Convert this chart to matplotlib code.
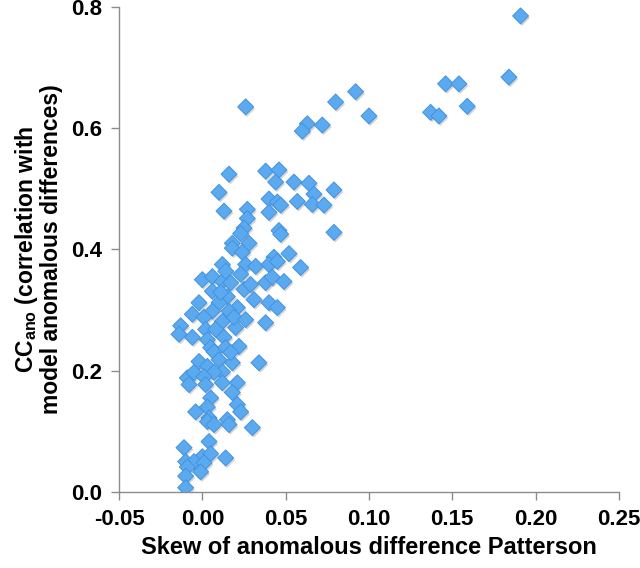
"""Scatter: CC_ano vs skew of anomalous difference Patterson."""
import matplotlib
matplotlib.use("Agg")
import matplotlib.pyplot as plt
import matplotlib.patheffects as pe
from matplotlib.ticker import FormatStrFormatter

plt.rcParams["font.family"] = ["Liberation Sans", "DejaVu Sans"]
plt.rcParams["font.weight"] = "bold"
plt.rcParams["mathtext.fontset"] = "custom"
plt.rcParams["mathtext.rm"] = "Liberation Sans:bold"

# skew of anomalous difference Patterson (x) and CC_ano (y)
skew = [
    0.191, 0.184, 0.146, 0.154, 0.159, 0.137, 0.142, 0.092, 0.080, 0.100,
    0.063, 0.072, 0.060, 0.026, 0.016, 0.038, 0.046, 0.010, 0.013, 0.044,
    0.055, 0.064, 0.079, 0.067, 0.040, 0.045, 0.047, 0.057, 0.066, 0.073,
    0.040, 0.027, 0.027, 0.025, 0.023, 0.046, 0.047, 0.079, 0.018, 0.028,
    0.018, 0.024, 0.052, 0.043, 0.012, 0.026, 0.032, 0.040, 0.045, 0.059,
    0.000, 0.006, 0.012, 0.017, 0.038, 0.042, 0.049, 0.006, 0.025, 0.031,
    0.015, 0.010, -0.002, 0.021, 0.016, 0.006, -0.006, 0.001, 0.012, 0.020,
    -0.013, -0.014, -0.006, 0.002, 0.008, 0.003, 0.013, 0.022, 0.038, 0.005,
    0.040, 0.045, 0.007, 0.014, 0.034, -0.002, 0.003, 0.010, 0.018, 0.012,
    0.007, -0.009, -0.005, 0.001, -0.008, 0.002, 0.012, 0.021, 0.018, 0.005,
    0.003, 0.021, 0.023, -0.004, 0.004, 0.015, 0.003, 0.007, 0.016, 0.030,
    0.004, -0.011, 0.000, 0.005, 0.014, -0.010, -0.005, 0.001, -0.009, -0.001,
    -0.010, -0.010, 0.017, 0.014, 0.023, 0.029, 0.019, 0.026, 0.011,
]
cc_ano = [
    0.785, 0.684, 0.673, 0.673, 0.636, 0.626, 0.620, 0.660, 0.643, 0.620,
    0.607, 0.605, 0.595, 0.635, 0.524, 0.529, 0.531, 0.494, 0.463, 0.511,
    0.511, 0.509, 0.498, 0.491, 0.483, 0.478, 0.473, 0.479, 0.474, 0.473,
    0.461, 0.466, 0.451, 0.435, 0.426, 0.431, 0.425, 0.428, 0.410, 0.410,
    0.402, 0.395, 0.393, 0.387, 0.375, 0.375, 0.372, 0.375, 0.380, 0.370,
    0.350, 0.355, 0.347, 0.345, 0.345, 0.354, 0.347, 0.331, 0.334, 0.317,
    0.322, 0.312, 0.312, 0.304, 0.298, 0.298, 0.293, 0.288, 0.281, 0.271,
    0.274, 0.260, 0.255, 0.268, 0.268, 0.251, 0.255, 0.240, 0.279, 0.238,
    0.312, 0.304, 0.231, 0.238, 0.213, 0.215, 0.207, 0.218, 0.213, 0.198,
    0.197, 0.188, 0.197, 0.190, 0.177, 0.177, 0.180, 0.180, 0.164, 0.155,
    0.140, 0.144, 0.132, 0.132, 0.122, 0.119, 0.116, 0.111, 0.111, 0.106,
    0.083, 0.073, 0.058, 0.063, 0.056, 0.050, 0.050, 0.048, 0.041, 0.033,
    0.026, 0.007, 0.230, 0.364, 0.359, 0.342, 0.288, 0.284, 0.329,
]

fig = plt.figure(figsize=(6.4, 5.68), dpi=100)
ax = fig.add_axes([0.186, 0.134, 0.781, 0.854])

sc = ax.scatter(skew, cc_ano, marker="D", s=66, facecolor="#5ba9ee",
                edgecolor="#4393e0", linewidth=0.7, zorder=3)
sc.set_path_effects([pe.SimplePatchShadow(offset=(1, -1.5), alpha=0.25, shadow_rgbFace="#555555"),
                     pe.Normal()])

ax.set_xlim(-0.05, 0.25)
ax.set_ylim(0, 0.8)
ax.set_xticks([-0.05, 0.0, 0.05, 0.10, 0.15, 0.20, 0.25])
ax.set_yticks([0.0, 0.2, 0.4, 0.6, 0.8])
ax.xaxis.set_major_formatter(FormatStrFormatter("%.2f"))
ax.yaxis.set_major_formatter(FormatStrFormatter("%.1f"))

for side in ["top", "right"]:
    ax.spines[side].set_visible(False)
for side in ["left", "bottom"]:
    ax.spines[side].set_color("#8c8c8c")
    ax.spines[side].set_linewidth(1.0)
ax.tick_params(axis="both", direction="out", length=6, width=1.0, color="#8c8c8c",
               labelsize=16, pad=6)
for lbl in ax.get_xticklabels() + ax.get_yticklabels():
    lbl.set_fontweight("bold")

ax.set_xlabel("Skew of anomalous difference Patterson", fontsize=17,
              fontweight="bold", labelpad=5)
ax.set_ylabel("CC$_{\\mathregular{ano}}$ (correlation with\nmodel anomalous differences)",
              fontsize=16.5, fontweight="bold", labelpad=6, linespacing=1.0)

fig.savefig("out.png", dpi=100)
